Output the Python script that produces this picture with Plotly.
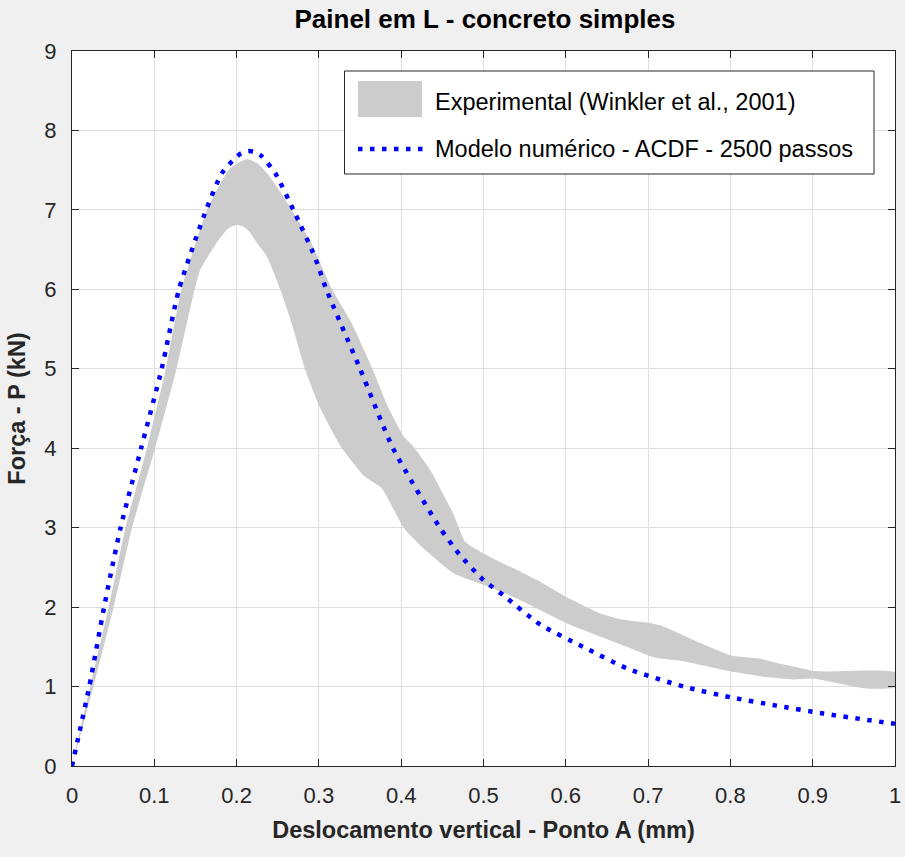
import plotly.graph_objects as go

# Experimental envelope (Winkler et al., 2001): upper and lower bounds
exp_upper_x = [0.0, 0.022, 0.0446, 0.065, 0.091, 0.114, 0.133, 0.164, 0.176, 0.190, 0.200,
               0.213, 0.226, 0.237, 0.252, 0.267, 0.289, 0.316, 0.340, 0.365, 0.384, 0.403,
               0.415, 0.435, 0.463, 0.478, 0.516, 0.540, 0.565, 0.600, 0.642, 0.670, 0.702,
               0.718, 0.763, 0.801, 0.836, 0.864, 0.900, 0.917, 1.0]
exp_upper_y = [0.0, 1.0, 2.0, 3.0, 4.0, 5.0, 6.0, 7.0, 7.25, 7.50, 7.58,
               7.64, 7.58, 7.46, 7.24, 7.0, 6.62, 6.0, 5.57, 5.0, 4.52, 4.15,
               4.02, 3.73, 3.18, 2.82, 2.59, 2.47, 2.34, 2.13, 1.92, 1.84, 1.80,
               1.76, 1.55, 1.39, 1.35, 1.28, 1.20, 1.19, 1.18]

exp_lower_x = [0.0, 0.026, 0.0506, 0.073, 0.101, 0.127, 0.149, 0.156, 0.178, 0.190, 0.200,
               0.208, 0.216, 0.225, 0.237, 0.253, 0.267, 0.283, 0.301, 0.328, 0.356, 0.376,
               0.403, 0.425, 0.463, 0.500, 0.540, 0.600, 0.642, 0.674, 0.698, 0.710, 0.743,
               0.801, 0.844, 0.877, 0.900, 0.961, 1.0]
exp_lower_y = [0.0, 1.0, 2.0, 3.0, 4.0, 5.0, 6.0, 6.25, 6.62, 6.77, 6.81,
               6.79, 6.72, 6.58, 6.41, 6.0, 5.57, 5.0, 4.52, 4.0, 3.64, 3.50,
               3.0, 2.76, 2.43, 2.28, 2.11, 1.80, 1.63, 1.50, 1.40, 1.36, 1.32,
               1.19, 1.12, 1.09, 1.10, 0.98, 0.99]

# Numerical model - ACDF - 2500 steps
model_x = [0.0, 0.021, 0.039, 0.059, 0.084, 0.109, 0.130, 0.163, 0.182, 0.198, 0.205,
           0.214, 0.222, 0.230, 0.247, 0.269, 0.295, 0.309, 0.350, 0.390, 0.447, 0.471,
           0.500, 0.524, 0.569, 0.621, 0.674, 0.743, 0.800, 0.856, 0.913, 1.0]
model_y = [0.0, 1.0, 2.0, 3.0, 4.0, 5.0, 6.0, 7.0, 7.46, 7.65, 7.71,
           7.74, 7.73, 7.68, 7.46, 7.0, 6.41, 6.0, 5.0, 4.0, 3.0, 2.66,
           2.34, 2.15, 1.78, 1.50, 1.23, 1.00, 0.865, 0.76, 0.66, 0.53]

x_ticks = [0, 0.1, 0.2, 0.3, 0.4, 0.5, 0.6, 0.7, 0.8, 0.9, 1]
x_tick_labels = ["0", "0.1", "0.2", "0.3", "0.4", "0.5", "0.6", "0.7", "0.8", "0.9", "1"]
y_ticks = [0, 1, 2, 3, 4, 5, 6, 7, 8, 9]

series_names = ["Experimental (Winkler et al., 2001)",
                "Modelo numérico - ACDF - 2500 passos"]

FONT = "Liberation Sans, Arial, Helvetica, sans-serif"
AX_COLOR = "#262626"
BAND_COLOR = "#cccccc"
LINE_COLOR = "#0000ff"
DOT_DASH = "4.5px,7.5px"

W, H = 905, 857
M_L, M_R, M_T, M_B = 72, 10, 51, 91
PW, PH = W - M_L - M_R, H - M_T - M_B


def px_x(px):
    return (px - M_L) / PW


def px_y(py):
    return (H - M_B - py) / PH


band_x = exp_upper_x + exp_lower_x[::-1]
band_y = exp_upper_y + exp_lower_y[::-1]

fig = go.Figure()
fig.add_trace(go.Scatter(
    x=band_x, y=band_y, mode="lines", fill="toself",
    fillcolor=BAND_COLOR,
    line=dict(width=0, color=BAND_COLOR, shape="spline", smoothing=0.5),
    name=series_names[0], showlegend=False, hoverinfo="skip"))
fig.add_trace(go.Scatter(
    x=model_x, y=model_y, mode="lines",
    line=dict(color=LINE_COLOR, width=4.5, dash=DOT_DASH, shape="spline", smoothing=0.6),
    name=series_names[1], showlegend=False))

axis_common = dict(
    showline=True, linecolor=AX_COLOR, linewidth=1, mirror="ticks",
    ticks="inside", ticklen=7, tickwidth=1, tickcolor=AX_COLOR,
    showgrid=True, gridcolor="#dfdfdf", gridwidth=1, zeroline=False,
    tickfont=dict(family=FONT, size=22, color=AX_COLOR),
)

fig.update_xaxes(range=[0, 1], tickvals=x_ticks, ticktext=x_tick_labels,
                 ticklabelstandoff=10,
                 title=dict(text="<b>Deslocamento vertical - Ponto A (mm)</b>",
                            font=dict(family=FONT, size=23.5, color=AX_COLOR),
                            standoff=14),
                 **axis_common)
fig.update_yaxes(range=[0, 9], tickvals=y_ticks, ticklabelstandoff=10,
                 title=dict(text="<b>Força - P (kN)</b>",
                            font=dict(family=FONT, size=23.5, color=AX_COLOR),
                            standoff=12),
                 **axis_common)

# Legend box drawn in paper coordinates
lx0, lx1, ly0, ly1 = 344.5, 874, 71, 174
shapes = [
    dict(type="rect", xref="paper", yref="paper",
         x0=px_x(lx0), x1=px_x(lx1), y0=px_y(ly1), y1=px_y(ly0),
         line=dict(color=AX_COLOR, width=1), fillcolor="white", layer="above"),
    dict(type="rect", xref="paper", yref="paper",
         x0=px_x(358), x1=px_x(422), y0=px_y(117), y1=px_y(81),
         line=dict(width=0), fillcolor=BAND_COLOR, layer="above"),
    dict(type="line", xref="paper", yref="paper",
         x0=px_x(358), x1=px_x(423), y0=px_y(149), y1=px_y(149),
         line=dict(color=LINE_COLOR, width=4.5, dash=DOT_DASH), layer="above"),
]
annotations = [
    dict(text=series_names[0], xref="paper", yref="paper",
         x=px_x(433), y=px_y(102), xanchor="left", yanchor="middle", showarrow=False,
         font=dict(family=FONT, size=23.5, color="#000000")),
    dict(text=series_names[1], xref="paper", yref="paper",
         x=px_x(433), y=px_y(149), xanchor="left", yanchor="middle", showarrow=False,
         font=dict(family=FONT, size=23.5, color="#000000")),
]

fig.update_layout(
    width=W, height=H,
    margin=dict(l=M_L, r=M_R, t=M_T, b=M_B, autoexpand=False),
    paper_bgcolor="#f0f0f0", plot_bgcolor="white",
    title=dict(text="<b>Painel em L - concreto simples</b>",
               font=dict(family=FONT, size=26, color="#000000"),
               x=485 / W, xref="container", xanchor="center",
               y=1 - 19 / H, yref="container", yanchor="middle"),
    shapes=shapes, annotations=annotations, showlegend=False,
)

fig.write_html("out.html")
